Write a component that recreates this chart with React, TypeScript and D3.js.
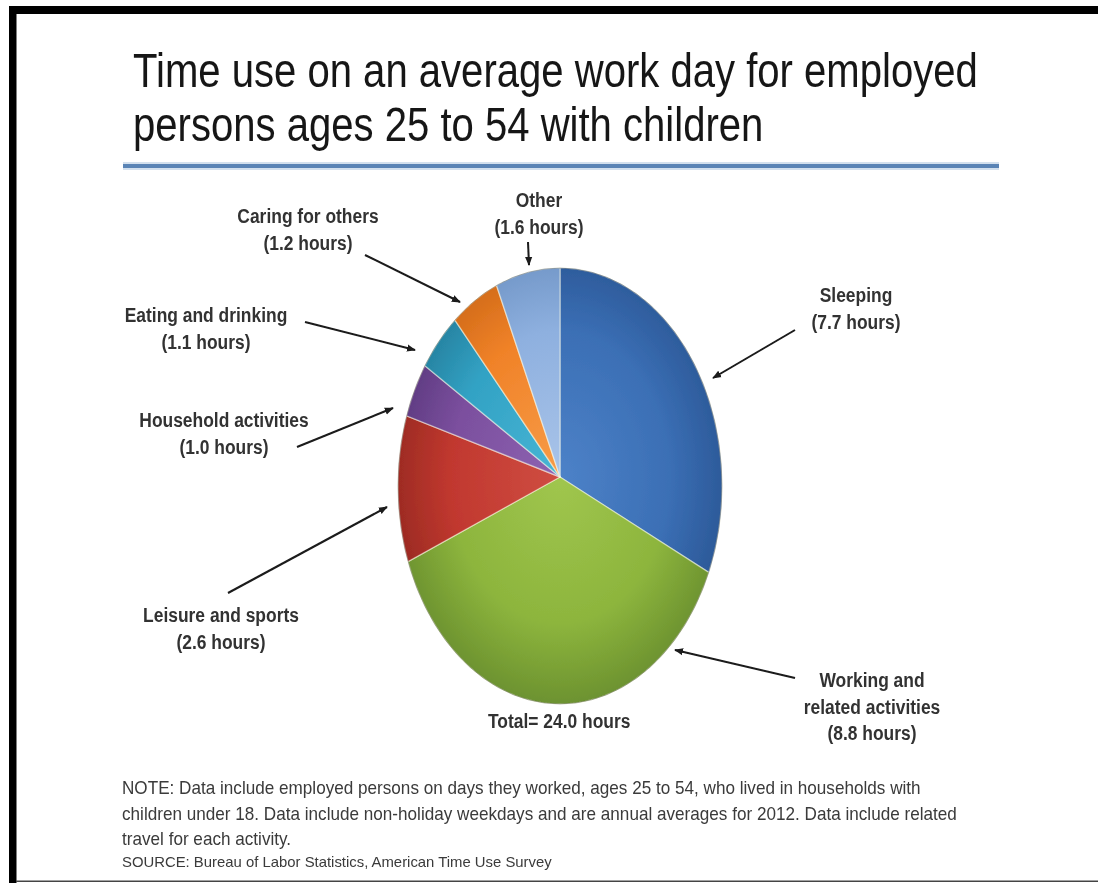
import React from "react";
import * as d3 from "d3";

// ---------- data ----------
const categories = [
  "Sleeping",
  "Working and related activities",
  "Leisure and sports",
  "Household activities",
  "Eating and drinking",
  "Caring for others",
  "Other",
];
const hours = [7.7, 8.8, 2.6, 1.0, 1.1, 1.2, 1.6];
const labelNameLines = [
  ["Sleeping"],
  ["Working and", "related activities"],
  ["Leisure and sports"],
  ["Household activities"],
  ["Eating and drinking"],
  ["Caring for others"],
  ["Other"],
];
const titleLines = [
  "Time use on an average work day for employed",
  "persons ages 25 to 54 with children",
];
const totalText = "Total= 24.0 hours";
const noteLines = [
  "NOTE: Data include employed persons on days they worked, ages 25 to 54, who lived in households with",
  "children under 18. Data include non-holiday weekdays and are annual averages for 2012. Data include related",
  "travel for each activity.",
];
const sourceText = "SOURCE: Bureau of Labor Statistics, American Time Use Survey";

// ---------- styles / layout ----------
const sliceColors = [
  { light: "#4d82c8", base: "#3b6fb5", dark: "#2b5897" },
  { light: "#a0c64e", base: "#8db53d", dark: "#6d9330" },
  { light: "#cf4d42", base: "#c1382f", dark: "#9a2a22" },
  { light: "#8d62b1", base: "#7b4f9e", dark: "#5d3a80" },
  { light: "#48b5d5", base: "#32a2c4", dark: "#257f9d" },
  { light: "#f79c48", base: "#f08228", dark: "#cf6918" },
  { light: "#a9c4e9", base: "#8eb0df", dark: "#7095c6" },
];
// projected (tilted) pie: ellipse outline + perspective factor
const PIE = { cx: 560, cy: 486, rx: 162, ry: 218, k: -9 / 218 };
const labelLayout = [
  { x: 856, y: 302, from: [795, 330], tip: [713, 378] },
  { x: 872, y: 687, from: [795, 678], tip: [675, 650] },
  { x: 221, y: 622, from: [228, 593], tip: [387, 507] },
  { x: 224, y: 427, from: [297, 447], tip: [393, 408] },
  { x: 206, y: 322, from: [305, 322], tip: [415, 350] },
  { x: 308, y: 223, from: [365, 255], tip: [460, 302] },
  { x: 539, y: 207, from: [528, 242], tip: [529, 265] },
];
const LINE_H = 26.5;
const FONT = "'Liberation Sans', Arial, Helvetica, sans-serif";

function measure(text: string, font: string): number {
  if (typeof document === "undefined") return text.length * 8;
  const c = document.createElement("canvas").getContext("2d");
  if (!c) return text.length * 8;
  c.font = font;
  return c.measureText(text).width;
}

function project(theta: number): [number, number] {
  const u = Math.sin(theta);
  const v = -Math.cos(theta);
  const k = PIE.k;
  const den = 1 + k * v;
  const U = (u * Math.sqrt(1 - k * k)) / den;
  const V = (v + k) / den;
  return [PIE.cx + PIE.rx * U, PIE.cy + PIE.ry * V];
}

export default function App() {
  const pieGen = d3
    .pie<number>()
    .sort(null)
    .value((d) => d)
    .startAngle(0)
    .endAngle(2 * Math.PI);
  const arcs = pieGen(hours);
  const line = d3.line();
  const apex: [number, number] = [PIE.cx, PIE.cy + PIE.ry * PIE.k];

  const slicePath = (a: d3.PieArcDatum<number>) => {
    const n = Math.max(4, Math.ceil(((a.endAngle - a.startAngle) * 180) / Math.PI));
    const pts: [number, number][] = [apex];
    for (let j = 0; j <= n; j++) {
      pts.push(project(a.startAngle + ((a.endAngle - a.startAngle) * j) / n));
    }
    return (line(pts) || "") + "Z";
  };

  const titleScale = 845 / measure(titleLines[0], `49px ${FONT}`);
  const noteScale = 799 / measure(noteLines[0], `18px ${FONT}`);
  const sourceScale = 431 / measure(sourceText, `14px ${FONT}`);

  return (
    <div style={{ position: "absolute", left: 0, top: 0, width: 1098, height: 883, background: "#fff" }}>
      <svg width={1098} height={883} style={{ display: "block" }} fontFamily={FONT}>
        <defs>
          {sliceColors.map((c, i) => (
            <radialGradient key={i} id={`g${i}`} gradientUnits="userSpaceOnUse" cx={apex[0]} cy={apex[1]} r={225}
              gradientTransform={`translate(${apex[0]} ${apex[1]}) scale(0.75 1) translate(${-apex[0]} ${-apex[1]})`}>
              <stop offset="0%" stopColor={c.light} />
              <stop offset="65%" stopColor={c.base} />
              <stop offset="100%" stopColor={c.dark} />
            </radialGradient>
          ))}
          <marker id="arrow" viewBox="0 0 10 10" refX={9} refY={5} markerWidth={9} markerHeight={9}
            markerUnits="userSpaceOnUse" orient="auto">
            <path d="M0,1 L10,5 L0,9 Z" fill="#1a1a1a" />
          </marker>
          <filter id="soft" x="-5%" y="-5%" width="110%" height="110%">
            <feGaussianBlur stdDeviation="0.45" />
          </filter>
        </defs>

        <rect x={0} y={0} width={1098} height={883} fill="#fff" />

        <g filter="url(#soft)">
          {/* title */}
          {titleLines.map((t, i) => (
            <text key={i} transform={`translate(133,${i === 0 ? 87 : 141}) scale(${titleScale},1)`}
              fontSize={49} fill="#161616">
              {t}
            </text>
          ))}
          {/* rule */}
          <line x1={123} x2={999} y1={166} y2={166} stroke="#d3e0ee" strokeWidth={8} />
          <line x1={123} x2={999} y1={166} y2={166} stroke="#5a84b6" strokeWidth={4} />

          {/* pie */}
          {arcs.map((a, i) => (
            <path key={i} d={slicePath(a)} fill={`url(#g${i})`}
              stroke="rgba(255,255,235,0.45)" strokeWidth={1.4} strokeLinejoin="round" />
          ))}
          <ellipse cx={PIE.cx} cy={PIE.cy} rx={PIE.rx} ry={PIE.ry} fill="none" stroke="rgba(40,40,40,0.3)" strokeWidth={1} />

          {/* arrows */}
          {labelLayout.map((l, i) => (
            <path key={i} d={line([l.from as [number, number], l.tip as [number, number]]) || ""}
              stroke="#1a1a1a" strokeWidth={2} fill="none" markerEnd="url(#arrow)" />
          ))}

          {/* labels */}
          {categories.map((c, i) => {
            const l = labelLayout[i];
            const lines = [...labelNameLines[i], `(${hours[i].toFixed(1)} hours)`];
            return (
              <g key={c}>
                {lines.map((t, j) => (
                  <text key={j} transform={`translate(${l.x},${l.y + j * LINE_H}) scale(0.85,1)`}
                    textAnchor="middle" fontSize={20.5} fontWeight="bold" fill="#333">
                    {t}
                  </text>
                ))}
              </g>
            );
          })}
          <text transform="translate(488,728) scale(0.85,1)" fontSize={20.5} fontWeight="bold" fill="#333">
            {totalText}
          </text>

          {/* notes */}
          {noteLines.map((t, i) => (
            <text key={i} transform={`translate(122,${794 + i * 25.5}) scale(${noteScale},1)`}
              fontSize={18} fill="#3a3a3a">
              {t}
            </text>
          ))}
          <text transform={`translate(122,867) scale(${sourceScale},1)`} fontSize={14} fill="#3a3a3a">
            {sourceText}
          </text>
        </g>

        {/* frame */}
        <rect x={9} y={6} width={1089} height={8} fill="#000" />
        <rect x={9} y={6} width={7.5} height={877} fill="#000" />
        <rect x={16} y={880.5} width={1082} height={1.5} fill="#444" />
      </svg>
    </div>
  );
}
